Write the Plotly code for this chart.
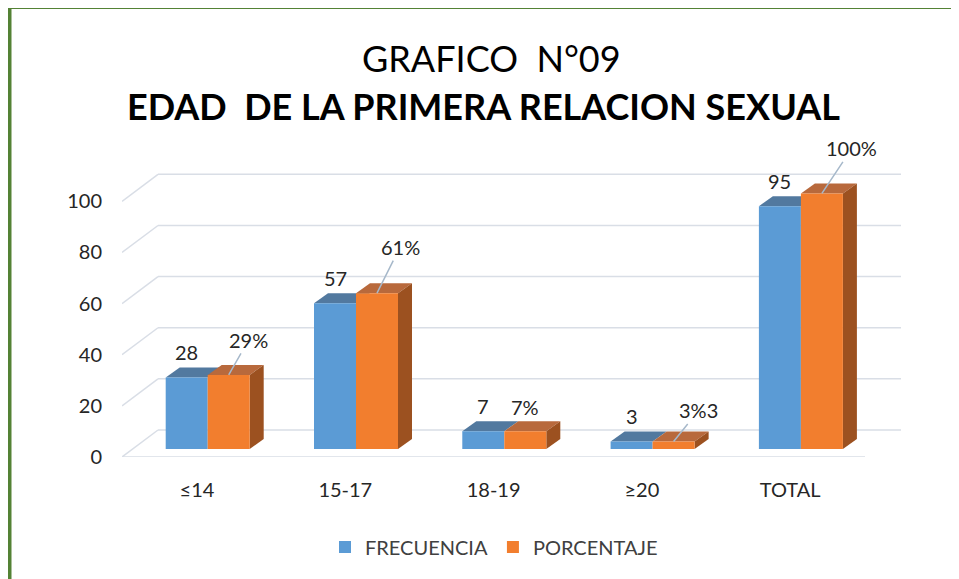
import plotly.graph_objects as go

# ---------------- data ----------------
categories = ["≤14", "15-17", "18-19", "≥20", "TOTAL"]
frecuencia = [28, 57, 7, 3, 95]
porcentaje = [29, 61, 7, 3, 100]
pct_labels = ["29%", "61%", "7%", "3%3", "100%"]
y_ticks = [0, 20, 40, 60, 80, 100]

# ---------------- styles / geometry ----------------
W, H = 959, 579
OFF = 8                                    # page body margin compensation
L, R, T, B = 122 - OFF, 905 - OFF, 163 - OFF, 457 - OFF   # plot area in pixels
PX_X = 148.3                               # pixels per category unit
PX_Y = (B - T) / 115.0                     # pixels per value unit
x_range = [-(197 - 122) / PX_X, -(197 - 122) / PX_X + (R - L) / PX_X]
y_range = [0, 115]

shift_x = 10.7 / PX_X     # bars set back into the floor
base = 3.1                # same, vertically
bw = 42 / PX_X            # bar width
dx = 14 / PX_X            # bar depth
dy = 10 / PX_Y
wall_dx = 36 / PX_X       # wall depth
wall_dy = 27 / PX_Y
back_right = x_range[0] + (901 - 122) / PX_X
front_right = x_range[0] + (865 - 122) / PX_X

BLUE = "#5B9BD5"
BLUE_TOP = "#52799F"
ORANGE = "#F27E2E"
ORANGE_TOP = "#B8693C"
ORANGE_SIDE = "#9C5120"
GRID = "#D9DEE6"
TXT = "#262626"
FONT = "Lato"

# label offsets (pixels) for percentage leader lines
pct_offsets = [(20, -35), (23, -46), (0, -24), (25, -31), (30, -45)]
pct_leader = [True, True, False, True, True]


def px(xp):
    return (xp - OFF - L) / (R - L)


def py(yp):
    return (B - (yp - OFF)) / (B - T)


xs = list(range(len(categories)))
xb = [i + shift_x for i in xs]

fig = go.Figure()
fig.add_bar(x=xb, y=frecuencia, base=base, width=bw, offset=-bw,
            marker=dict(color=BLUE, line=dict(width=0)), name="FRECUENCIA",
            hoverinfo="y")
fig.add_bar(x=xb, y=porcentaje, base=base, width=bw, offset=0,
            marker=dict(color=ORANGE, line=dict(width=0)), name="PORCENTAJE",
            hoverinfo="y")

shapes = []
# walls / grid
for v in y_ticks:
    shapes.append(dict(type="line", xref="x", yref="y", layer="below",
                       x0=x_range[0], y0=v, x1=x_range[0] + wall_dx, y1=v + wall_dy,
                       line=dict(color=GRID, width=1.5)))
    shapes.append(dict(type="line", xref="x", yref="y", layer="below",
                       x0=x_range[0] + wall_dx, y0=v + wall_dy, x1=back_right, y1=v + wall_dy,
                       line=dict(color=GRID, width=1.5)))
shapes.append(dict(type="line", xref="x", yref="y", layer="below",
                   x0=x_range[0], y0=0, x1=front_right, y1=0,
                   line=dict(color=GRID, width=1.5)))

# 3D faces computed from the data values
for i, (vb, vo) in enumerate(zip(frecuencia, porcentaje)):
    c = xb[i]
    tb = base + vb
    to = base + vo
    xl, xm, xr = c - bw, c, c + bw
    shapes.append(dict(type="path", xref="x", yref="y", layer="below",
                       path=f"M {xl},{tb} L {xl+dx},{tb+dy} L {xm+dx},{tb+dy} L {xm},{tb} Z",
                       fillcolor=BLUE_TOP, line=dict(width=0)))
    shapes.append(dict(type="path", xref="x", yref="y", layer="below",
                       path=f"M {xm},{to} L {xm+dx},{to+dy} L {xr+dx},{to+dy} L {xr},{to} Z",
                       fillcolor=ORANGE_TOP, line=dict(width=0)))
    shapes.append(dict(type="path", xref="x", yref="y", layer="below",
                       path=f"M {xr},{base} L {xr+dx},{base+dy} L {xr+dx},{to+dy} L {xr},{to} Z",
                       fillcolor=ORANGE_SIDE, line=dict(width=0)))

# green frame
shapes.append(dict(type="rect", xref="paper", yref="paper",
                   x0=px(9.5), x1=px(990), y0=py(610), y1=py(7),
                   line=dict(color="#548235", width=4), fillcolor="rgba(0,0,0,0)"))

annotations = [
    dict(text="GRAFICO\u00a0\u00a0N°09", xref="paper", yref="paper", x=px(491), y=py(58),
         showarrow=False, font=dict(family=FONT, size=36, color="#000000"),
         xanchor="center", yanchor="middle"),
    dict(text="<b>EDAD\u00a0\u00a0DE LA PRIMERA RELACION SEXUAL</b>", xref="paper", yref="paper",
         x=px(483), y=py(106), showarrow=False,
         font=dict(family=FONT, size=36, color="#000000"),
         xanchor="center", yanchor="middle"),
]
for i, vb in enumerate(frecuencia):
    annotations.append(dict(text=str(vb), x=xb[i] - bw / 2, y=base + vb, xref="x", yref="y",
                            showarrow=False, yshift=25, xanchor="center", yanchor="middle",
                            font=dict(family=FONT, size=20, color=TXT)))
for i, vo in enumerate(porcentaje):
    ax, ay = pct_offsets[i]
    if pct_leader[i]:
        annotations.append(dict(text=pct_labels[i], x=xb[i] + bw / 2, y=base + vo,
                                xref="x", yref="y", showarrow=True, arrowhead=0,
                                arrowwidth=1.5, arrowcolor="#A6B8CA", ax=ax, ay=ay,
                                standoff=0, startstandoff=0,
                                font=dict(family=FONT, size=20, color=TXT)))
    else:
        annotations.append(dict(text=pct_labels[i], x=xb[i] + bw / 2, y=base + vo,
                                xref="x", yref="y", showarrow=False, xshift=ax, yshift=-ay,
                                xanchor="center", yanchor="middle",
                                font=dict(family=FONT, size=20, color=TXT)))

fig.update_layout(
    width=W, height=H,
    margin=dict(l=L, r=W - R, t=T, b=H - B, pad=0),
    paper_bgcolor="white", plot_bgcolor="white",
    barmode="overlay",
    showlegend=True,
    legend=dict(orientation="h", x=px(494), y=py(547), xanchor="center", yanchor="middle",
                font=dict(family=FONT, size=20, color="#404040"), traceorder="normal",
                itemclick=False, bgcolor="rgba(0,0,0,0)"),
    font=dict(family=FONT, color=TXT),
    shapes=shapes,
    annotations=annotations,
    xaxis=dict(range=x_range, tickvals=xs, ticktext=categories, showgrid=False,
               zeroline=False, showline=False, ticks="outside", ticklen=15,
               tickcolor="rgba(0,0,0,0)", tickfont=dict(family=FONT, size=20, color=TXT),
               fixedrange=True),
    yaxis=dict(range=y_range, tickvals=y_ticks, showgrid=False, zeroline=False,
               showline=False, ticks="outside", ticklen=15, tickcolor="rgba(0,0,0,0)",
               tickfont=dict(family=FONT, size=20, color=TXT), fixedrange=True),
)

fig.write_html("out.html")
